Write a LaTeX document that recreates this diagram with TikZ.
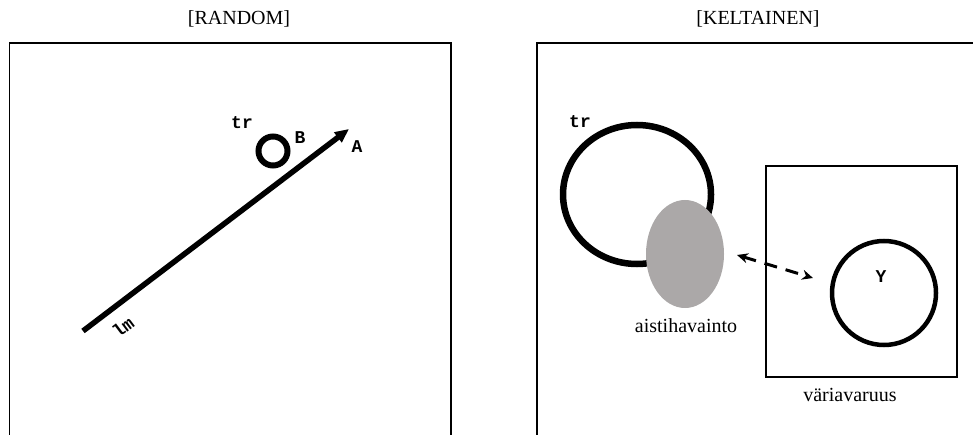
\documentclass[tikz,border=0pt]{standalone}
\usepackage{fontspec}
\setmainfont{Liberation Serif}
\newfontfamily\monob{Liberation Mono}
\usetikzlibrary{arrows.meta,shapes.geometric}
\definecolor{percgray}{RGB}{171,168,168}
\begin{document}
\begin{tikzpicture}[x=1pt,y=-1pt,
  frame/.style={draw, line width=1.6pt},
  serif/.style={font=\fontsize{20}{24}\selectfont, inner sep=0pt},
  mono/.style={font=\monob\bfseries\fontsize{18}{20}\selectfont, inner sep=0pt},
  ring/.style={draw, circle, inner sep=0pt},
  oval/.style={draw, ellipse, inner sep=0pt},
]
\useasboundingbox (0,0) rectangle (973,435);
\clip (0,0) rectangle (973,435);
% titles
\node[serif] (t1) at (239,19) {[RANDOM]};
\node[serif] (t2) at (758,19) {[KELTAINEN]};
% frames
\draw[frame] (9.5,445) |- (451,43) -- (451,445);
\draw[frame] (537,445) |- (985,43);
% left panel
\coordinate (lmend) at (83,331);
\coordinate (Atip) at (349,129);
\draw[line width=5.5pt, -{Triangle[length=14pt,width=12pt]}] (lmend) -- (Atip);
\node[ring, line width=6pt, minimum size=29pt] (Bring) at (273,151) {};
\node[mono] (trL) at (242,123) {tr};
\node[mono] (Blab) at (300,138) {B};
\node[mono] (Alab) at (357,147) {A};
\node[mono, rotate=37] (lmlab) at (123,327) {lm};
% right panel
\node[oval, line width=6.5pt, minimum width=148pt, minimum height=139pt] (trring) at (637,194.5) {};
\node[ellipse, fill=percgray, inner sep=0pt, minimum width=78pt, minimum height=108pt] (perc) at (685,254) {};
\node[mono] (trR) at (580,122) {tr};
\node[serif] (aist) at (686,326) {aistihavainto};
\node[draw, line width=1.6pt, minimum width=191pt, minimum height=211pt, inner sep=0pt] (space) at (861.5,271.5) {};
\node[serif] (vari) at (850,395) {väriavaruus};
\node[ring, line width=4.5pt, minimum size=104pt] (Yring) at (884,293) {};
\node[mono] (Ylab) at (881,277) {Y};
\coordinate (d1) at (737,255);
\coordinate (d2) at (813,278);
\draw[line width=3pt, dash pattern=on 13pt off 9pt, {Stealth[length=11pt,width=10pt]}-{Stealth[length=11pt,width=10pt]}] (d1) -- (d2);
\end{tikzpicture}
\end{document}
